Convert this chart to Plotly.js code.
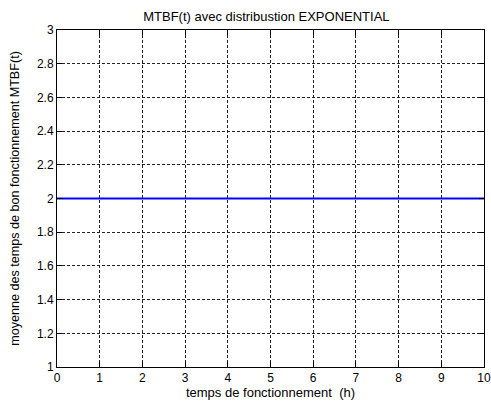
<!DOCTYPE html>
<html>
<head>
<meta charset="utf-8">
<script src="https://cdn.plot.ly/plotly-3.0.1.min.js"></script>
<style>html,body{margin:0;padding:0;background:#fff;}#chart{width:491px;height:402px;}</style>
</head>
<body>
<div id="chart"></div>
<script>
var timeHours = [0, 1, 2, 3, 4, 5, 6, 7, 8, 9, 10];
var mtbfValues = [2, 2, 2, 2, 2, 2, 2, 2, 2, 2, 2];
var xTickVals = [0, 1, 2, 3, 4, 5, 6, 7, 8, 9, 10];
var yTickVals = [1, 1.2, 1.4, 1.6, 1.8, 2, 2.2, 2.4, 2.6, 2.8, 3];
var yTickText = ["1", "1.2", "1.4", "1.6", "1.8", "2", "2.2", "2.4", "2.6", "2.8", "3"];

var fam = "Liberation Sans, Arial, sans-serif";
var tickFont = {family: fam, size: 12, color: "#000"};
var titleFont = {family: fam, size: 13, color: "#000"};
var yTitleFont = {family: fam, size: 12.6, color: "#000"};

var trace = {
  x: timeHours, y: mtbfValues, type: "scatter", mode: "lines",
  line: {color: "#0000ff", width: 2}, hoverinfo: "none"
};

var axisCommon = {
  showline: true, mirror: "ticks", linecolor: "#000", linewidth: 1,
  ticks: "inside", ticklen: 5, tickcolor: "#000", tickwidth: 1,
  showgrid: true, gridcolor: "#222", gridwidth: 1, griddash: "3px,2px",
  zeroline: false, tickfont: tickFont, fixedrange: true
};

var layout = {
  width: 491, height: 402,
  margin: {l: 57, r: 7, t: 30, b: 35},
  paper_bgcolor: "#fff", plot_bgcolor: "#fff",
  showlegend: false,
  font: tickFont,
  title: {text: "MTBF(t) avec distribustion EXPONENTIAL", font: titleFont, x: 0.5425, xanchor: "center", y: 0.958, yanchor: "middle"},
  xaxis: Object.assign({}, axisCommon, {
    range: [0, 10], tickvals: xTickVals, ticktext: xTickVals.map(String),
    title: {text: "temps de fonctionnement  (h)", font: titleFont, standoff: 3}
  }),
  yaxis: Object.assign({}, axisCommon, {
    range: [1, 3], tickvals: yTickVals, ticktext: yTickText,
    title: {text: "moyenne des temps de bon fonctionnement MTBF(t)", font: yTitleFont, standoff: 14}
  })
};

Plotly.newPlot("chart", [trace], layout, {displayModeBar: false, staticPlot: true});
</script>
</body>
</html>
